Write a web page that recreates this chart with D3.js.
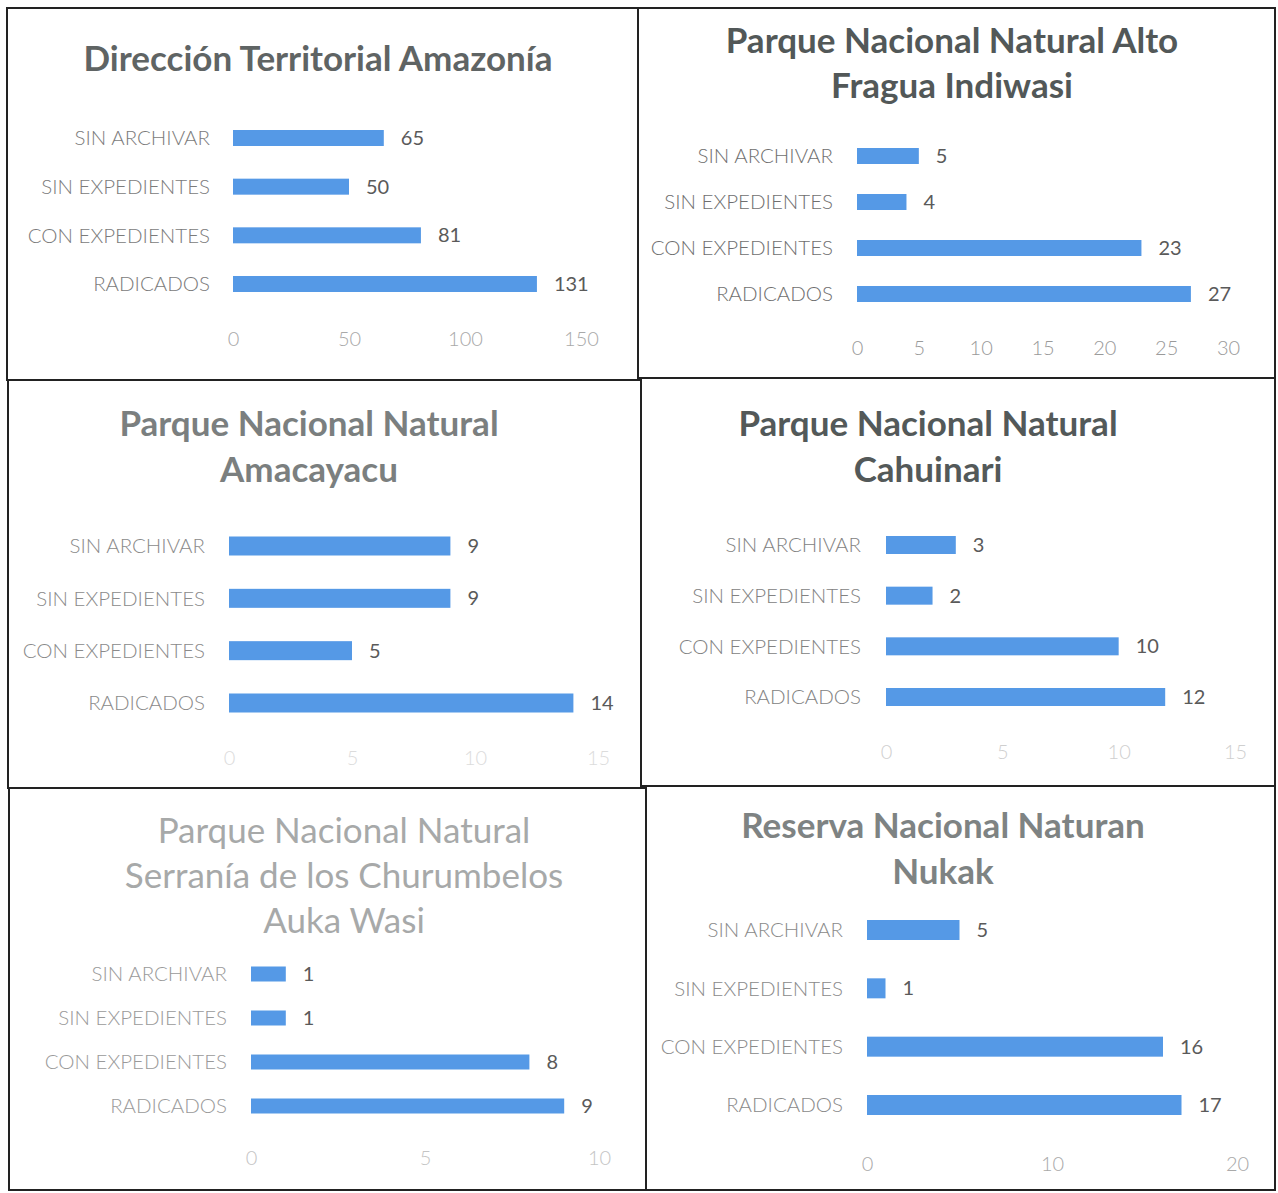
<!DOCTYPE html>
<html>
<head>
<meta charset="utf-8">
<script src="https://cdn.jsdelivr.net/npm/d3@7"></script>
<style>
  body { margin: 0; background: #fff; }
  svg { display: block; }
  .cat { font-family: Lato, "Open Sans", sans-serif; font-size: 20.5px; font-weight: 300; fill: #7b7b7b; }
  .val { font-family: Lato, "Open Sans", sans-serif; font-size: 20px; fill: #5a5a5a; }
  .title { font-family: Lato, "Open Sans", sans-serif; font-size: 35px; font-weight: bold; }
  .axis text { font-family: Lato, "Open Sans", sans-serif; font-size: 20px; font-weight: 300; }
</style>
</head>
<body>
<div id="vis"></div>
<script>
var categories = ["SIN ARCHIVAR", "SIN EXPEDIENTES", "CON EXPEDIENTES", "RADICADOS"];

var titles = [
    ["Dirección Territorial Amazonía"],
    ["Parque Nacional Natural Alto", "Fragua Indiwasi"],
    ["Parque Nacional Natural", "Amacayacu"],
    ["Parque Nacional Natural", "Cahuinari"],
    ["Parque Nacional Natural", "Serranía de los Churumbelos", "Auka Wasi"],
    ["Reserva Nacional Naturan", "Nukak"]
];

var amazonia = [65, 50, 81, 131];
var altoFragua = [5, 4, 23, 27];
var amacayacu = [9, 9, 5, 14];
var cahuinari = [3, 2, 10, 12];
var churumbelos = [1, 1, 8, 9];
var nukak = [5, 1, 16, 17];

var ticks1 = [0, 50, 100, 150];
var ticks2 = [0, 5, 10, 15, 20, 25, 30];
var ticks3 = [0, 5, 10, 15];
var ticks4 = [0, 5, 10, 15];
var ticks5 = [0, 5, 10];
var ticks6 = [0, 10, 20];

var series = [amazonia, altoFragua, amacayacu, cahuinari, churumbelos, nukak];
var tickSets = [ticks1, ticks2, ticks3, ticks4, ticks5, ticks6];

// layout of each panel (box, title, plot area, colours)
var panels = [
    { box: [7, 8, 638, 380], tx: 318, ty: 71, lh: 46, titleColor: "#5f6464", titleWeight: "bold",
      x0: 233, x1: 581, y0: 138, y1: 284, bh: 16, labX: 210, axY: 347,
      catColor: "#7b7b7b", axColor: "#a9a9a9" },
    { box: [638, 8, 1275, 378], tx: 952, ty: 53, lh: 45, titleColor: "#525858", titleWeight: "bold",
      x0: 857, x1: 1228, y0: 156, y1: 294, bh: 16, labX: 833, axY: 356,
      catColor: "#6f6f6f", axColor: "#9a9a9a" },
    { box: [8, 380, 641, 788], tx: 309, ty: 436, lh: 46, titleColor: "#7b7f7f", titleWeight: "bold",
      x0: 229, x1: 598, y0: 546, y1: 703, bh: 19, labX: 205, axY: 766,
      catColor: "#8a8a8a", axColor: "#dcdcdc" },
    { box: [641, 378, 1275, 786], tx: 928, ty: 436, lh: 46, titleColor: "#535959", titleWeight: "bold",
      x0: 886, x1: 1235, y0: 545, y1: 697, bh: 18, labX: 861, axY: 760,
      catColor: "#828282", axColor: "#cfcfcf" },
    { box: [9, 788, 646, 1190], tx: 344, ty: 843, lh: 45, titleColor: "#a7a9a9", titleWeight: "normal",
      x0: 251, x1: 599, y0: 974, y1: 1106, bh: 15, labX: 227, axY: 1166,
      catColor: "#9a9a9a", axColor: "#c4c4c4" },
    { box: [646, 786, 1275, 1190], tx: 943, ty: 838, lh: 46, titleColor: "#7e8383", titleWeight: "bold",
      x0: 867, x1: 1237, y0: 930, y1: 1105, bh: 20, labX: 843, axY: 1172,
      catColor: "#8a8a8a", axColor: "#a9a9a9" }
];

var svg = d3.select("#vis")
    .append("svg")
    .attr("width", 1278)
    .attr("height", 1193);

panels.forEach(function (p, i) {
    var values = series[i];
    var g = svg.append("g").attr("class", "panel");

    g.append("rect")
        .attr("x", p.box[0])
        .attr("y", p.box[1])
        .attr("width", p.box[2] - p.box[0])
        .attr("height", p.box[3] - p.box[1])
        .attr("fill", "none")
        .attr("stroke", "#222")
        .attr("stroke-width", 2);

    g.selectAll(".title")
        .data(titles[i])
        .enter().append("text")
        .attr("class", "title")
        .attr("x", p.tx)
        .attr("y", (d, j) => p.ty + j * p.lh)
        .attr("text-anchor", "middle")
        .style("fill", p.titleColor)
        .style("font-weight", p.titleWeight)
        .text(d => d);

    var x = d3.scaleLinear()
        .domain([0, d3.max(tickSets[i])])
        .range([p.x0, p.x1]);

    var y = d3.scalePoint()
        .domain(categories)
        .range([p.y0, p.y1]);

    var rows = g.selectAll(".row")
        .data(categories.map((c, j) => ({ cat: c, value: values[j] })))
        .enter().append("g")
        .attr("class", "row");

    rows.append("rect")
        .attr("x", x(0))
        .attr("y", d => y(d.cat) - p.bh / 2)
        .attr("width", d => x(d.value) - x(0))
        .attr("height", p.bh)
        .attr("fill", "#5599e6");

    rows.append("text")
        .attr("class", "cat")
        .attr("x", p.labX)
        .attr("y", d => y(d.cat))
        .attr("dy", ".35em")
        .attr("text-anchor", "end")
        .style("fill", p.catColor)
        .text(d => d.cat);

    rows.append("text")
        .attr("class", "val")
        .attr("x", d => x(d.value) + 17)
        .attr("y", d => y(d.cat))
        .attr("dy", ".35em")
        .text(d => d.value);

    var xAxis = d3.axisBottom()
        .scale(x)
        .tickValues(tickSets[i])
        .tickSize(0)
        .tickPadding(0)
        .tickFormat(d => d);

    var ax = g.append("g")
        .attr("class", "axis")
        .attr("transform", "translate(0," + (p.axY - 15) + ")")
        .call(xAxis);
    ax.select(".domain").remove();
    ax.selectAll("text").style("fill", p.axColor);
});
</script>
</body>
</html>
